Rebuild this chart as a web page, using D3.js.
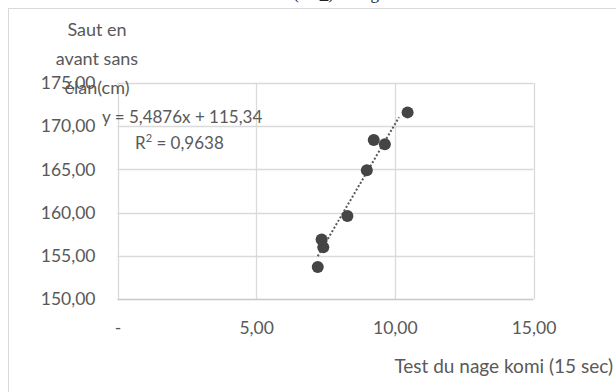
<!DOCTYPE html>
<html>
<head>
<meta charset="utf-8">
<script src="https://cdn.jsdelivr.net/npm/d3@7"></script>
<style>
  body { margin: 0; background: #fff; }
  svg { display: block; }
  .tick text { font-family: Lato, "Open Sans", sans-serif; }
</style>
</head>
<body>
<svg></svg>
<script>
// data
var nageKomi = [10.46, 9.24, 9.64, 8.99, 8.29, 7.36, 7.42, 7.22];
var sautElan = [171.6, 168.4, 167.9, 164.9, 159.6, 156.9, 156.0, 153.7];
var yTicks = [150, 155, 160, 165, 170, 175];
var xTicks = [0, 5, 10, 15];
var xTickLabels = ['-', '5,00', '10,00', '15,00'];
var yTitleLines = ['Saut en', 'avant sans', 'élan(cm)'];
var slope = 5.4876, intercept = 115.34, r2 = '0,9638';
var trendRange = [7.22, 10.15]; // where the dotted line is seen

var WIDTH = 616;
var HEIGHT = 392;
var svg = d3.select('svg')
  .attr('width', WIDTH)
  .attr('height', HEIGHT);

var FONT = 'Lato, "Open Sans", sans-serif';
var GREY = '#595959';

// chart frame
svg.append('rect')
  .attr('x', 8.5).attr('y', 8.5)
  .attr('width', 620).attr('height', 400)
  .attr('fill', '#fff')
  .attr('stroke', '#d9d9d9');

// bit of the caption cut off at the top
svg.append('text')
  .attr('x', 280).attr('y', -1.5)
  .attr('text-anchor', 'middle')
  .attr('font-family', '"Liberation Serif", serif')
  .attr('font-size', 17)
  .attr('fill', '#222')
  .text('saut en avant sans élan (cm_) et nage komi');

var xScale = d3.scaleLinear().domain([0, 15]).range([117.5, 533.5]);
var yScale = d3.scaleLinear().domain([150, 175]).range([299, 83]);

// gridlines
svg.append('g')
  .selectAll('line.h')
  .data(yTicks)
  .enter().append('line')
  .attr('x1', xScale(0)).attr('x2', xScale(15))
  .attr('y1', function(d){ return Math.round(yScale(d)) + 0.5; })
  .attr('y2', function(d){ return Math.round(yScale(d)) + 0.5; })
  .attr('stroke', function(d){ return d === 150 ? '#c8c8c8' : '#dadada'; })
  .attr('stroke-width', 1.3);

svg.append('g')
  .selectAll('line.v')
  .data(xTicks)
  .enter().append('line')
  .attr('y1', yScale(150)).attr('y2', yScale(175))
  .attr('x1', function(d){ return Math.round(xScale(d)) + 0.5; })
  .attr('x2', function(d){ return Math.round(xScale(d)) + 0.5; })
  .attr('stroke', '#dadada')
  .attr('stroke-width', 1.3);

// axes (labels only)
var leftAxis = d3.axisLeft(yScale)
  .tickValues(yTicks)
  .tickSize(0)
  .tickPadding(22)
  .tickFormat(function(d){ return d3.format('.2f')(d).replace('.', ','); });
var yAxis = svg.append('g')
  .attr('transform', 'translate(' + xScale(0) + ',0)')
  .call(leftAxis);

var botAxis = d3.axisBottom(xScale)
  .tickValues(xTicks)
  .tickSize(0)
  .tickPadding(23)
  .tickFormat(function(d, i){ return xTickLabels[i]; });
var xAxis = svg.append('g')
  .attr('transform', 'translate(0,' + yScale(150) + ')')
  .call(botAxis);

[yAxis, xAxis].forEach(function(ax){
  ax.select('.domain').remove();
  ax.selectAll('text')
    .attr('fill', GREY)
    .attr('font-size', 17.5)
    .attr('font-family', FONT);
});

// axis titles
svg.append('text')
  .attr('x', 97).attr('y', 0)
  .attr('text-anchor', 'middle')
  .attr('font-family', FONT)
  .attr('font-size', 18)
  .attr('fill', GREY)
  .selectAll('tspan')
  .data(yTitleLines)
  .enter().append('tspan')
  .attr('x', 97)
  .attr('y', function(d, i){ return 36 + i * 29; })
  .text(function(d){ return d; });

svg.append('text')
  .attr('x', 613).attr('y', 373)
  .attr('text-anchor', 'end')
  .attr('font-family', FONT)
  .attr('font-size', 19)
  .attr('fill', GREY)
  .text('Test du nage komi (15 sec)');

// trendline
svg.append('line')
  .attr('x1', xScale(trendRange[0])).attr('y1', yScale(slope * trendRange[0] + intercept))
  .attr('x2', xScale(trendRange[1])).attr('y2', yScale(slope * trendRange[1] + intercept))
  .attr('stroke', GREY)
  .attr('stroke-width', 2)
  .attr('stroke-dasharray', '2,2');

// points
svg.append('g').attr('id', 'points')
  .selectAll('circle')
  .data(nageKomi)
  .enter().append('circle')
  .attr('cx', function(d){ return xScale(d); })
  .attr('cy', function(d, i){ return yScale(sautElan[i]); })
  .attr('r', 6)
  .attr('fill', '#454545');

// equation labels
svg.append('text')
  .attr('x', 102).attr('y', 123)
  .attr('font-family', FONT)
  .attr('font-size', 17)
  .attr('fill', GREY)
  .text('y = 5,4876x + 115,34');

var r2Text = svg.append('text')
  .attr('x', 135).attr('y', 149)
  .attr('font-family', FONT)
  .attr('font-size', 17)
  .attr('fill', GREY);
r2Text.append('tspan').text('R');
r2Text.append('tspan').attr('dy', -7).attr('font-size', 11).text('2');
r2Text.append('tspan').attr('dy', 7).text(' = ' + r2);
</script>
</body>
</html>
